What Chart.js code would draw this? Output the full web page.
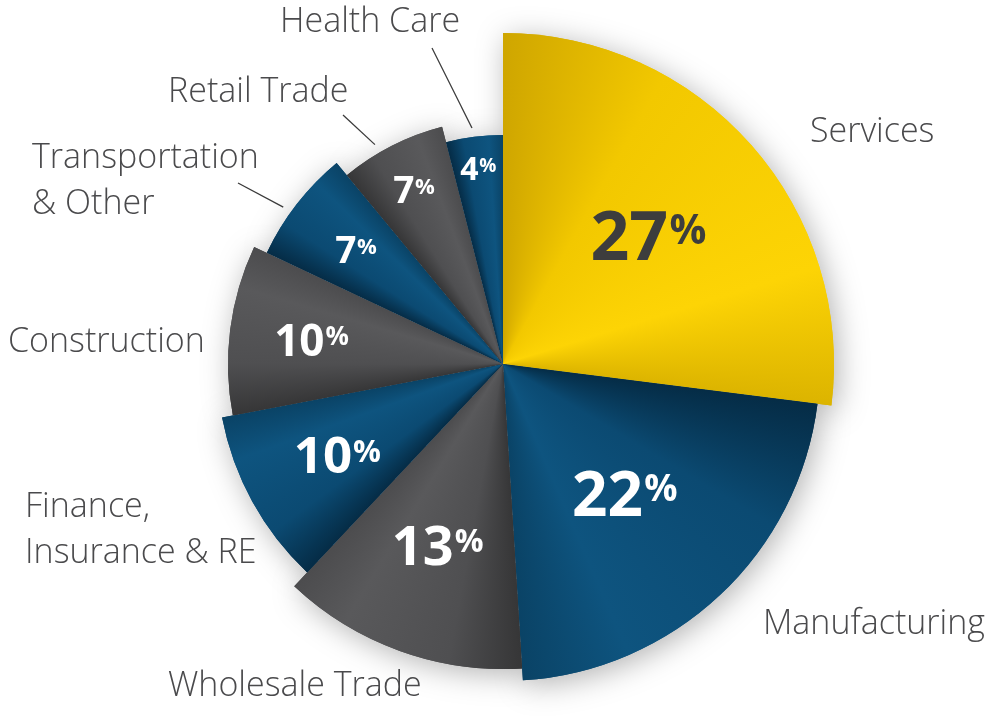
<!DOCTYPE html>
<html>
<head>
<meta charset="utf-8">
<title>Industry share</title>
<script src="https://cdn.jsdelivr.net/npm/chart.js@4.4.1/dist/chart.umd.min.js"></script>
<style>
  html, body { margin: 0; padding: 0; background: #fff; }
  #wrap { width: 1000px; height: 726px; position: relative; }
</style>
</head>
<body>
<div id="wrap"><canvas id="industryChart"></canvas></div>
<script>
// data
const sectors = [`Services`, `Manufacturing`, `Wholesale Trade`, `Finance, Insurance & RE`, `Construction`, `Transportation & Other`, `Retail Trade`, `Health Care`];
const sectorLines = [[`Services`], [`Manufacturing`], [`Wholesale Trade`], [`Finance,`, `Insurance & RE`], [`Construction`], [`Transportation`, `& Other`], [`Retail Trade`], [`Health Care`]];
const shares = [27, 22, 13, 10, 10, 7, 7, 4];

// look of each slice (outer radius in px, colour family)
const sliceRadius = [331, 317, 305, 286, 275, 261, 245, 229];
const sliceTone = [`gold`, `blue`, `gray`, `blue`, `gray`, `blue`, `gray`, `blue`];
const pctDist = [194, 178, 193, 189, 193, 186, 196, 197];
const pctSize = [68, 62, 54, 51, 44, 37, 37, 32];
const pctColor = [`#3d3d3d`, `#fff`, `#fff`, `#fff`, `#fff`, `#fff`, `#fff`, `#fff`];

// where the sector names sit (left x, middle y of first line)
const namePos = [
  [810, 132], [763, 624], [168, 686], [25, 507],
  [8, 342], [32, 158], [168, 92], [280, 22],
];
// leader lines: start point and where on the slice edge they land (fraction of the slice)
const leaders = [
  { idx: 7, from: [432, 48], at: 0.48 },
  { idx: 6, from: [343, 115], at: 0.37 },
  { idx: 5, from: [238, 183], at: 0.41 },
];

(() => {
  ("use strict");

  const tones = {
    gold: { dark: `#cfa600`, base: `#f2c800`, light: `#fdd405`, edge: `#dcb400` },
    blue: { dark: `#052c46`, base: `#0b4a72`, light: `#0e547f`, edge: `#0a4366` },
    gray: { dark: `#363637`, base: `#4f4f51`, light: `#59595b`, edge: `#4c4c4e` },
  };
  const total = shares.reduce((a, b) => a + b, 0);

  function shade(c) {
    const i = c.dataIndex;
    const tone = tones[sliceTone[i]];
    const area = c.chart.chartArea;
    if (!area) return tone.base;
    const cx = (area.left + area.right) / 2,
      cy = (area.top + area.bottom) / 2;
    const before = shares.slice(0, i).reduce((a, b) => a + b, 0);
    const a0 = -Math.PI / 2 + (2 * Math.PI * before) / total;
    const f = shares[i] / total;
    const g = c.chart.ctx.createConicGradient(a0, cx, cy);
    g.addColorStop(0, tone.dark);
    g.addColorStop(f * 0.3, tone.base);
    g.addColorStop(f * 0.75, tone.light);
    g.addColorStop(f, tone.edge);
    g.addColorStop(Math.min(1, f + 0.001), tone.base);
    return g;
  }

  const radiusPlugin = {
    id: `sliceRadius`,
    afterDatasetsUpdate(chart) {
      chart.getDatasetMeta(0).data.forEach((el, i) => {
        el.outerRadius = sliceRadius[i];
      });
    },
    beforeDatasetsDraw(chart) {
      // soft halo under the pie
      const ctx = chart.ctx;
      ctx.save();
      ctx.shadowColor = `rgba(0,0,0,0.30)`;
      ctx.shadowBlur = 30;
      ctx.shadowOffsetX = 4;
      ctx.shadowOffsetY = 5;
      chart.getDatasetMeta(0).data.forEach((el) => el.draw(ctx));
      ctx.restore();
    },
  };

  const labelPlugin = {
    id: `sliceLabels`,
    afterDatasetsDraw(chart) {
      const ctx = chart.ctx;
      const arcs = chart.getDatasetMeta(0).data;
      ctx.save();
      // percentages
      arcs.forEach((el, i) => {
        const mid = (el.startAngle + el.endAngle) / 2;
        const x = el.x + Math.cos(mid) * pctDist[i];
        const y = el.y + Math.sin(mid) * pctDist[i];
        const s = pctSize[i],
          ps = Math.round(s * 0.6);
        const num = `${shares[i]}`;
        ctx.font = `700 ${s}px "Open Sans"`;
        const wn = ctx.measureText(num).width;
        ctx.font = `700 ${ps}px "Open Sans"`;
        const wp = ctx.measureText(`%`).width;
        const gap = s * 0.02;
        const left = x - (wn + gap + wp) / 2;
        const top = y - s * 0.36;
        ctx.fillStyle = pctColor[i];
        ctx.textAlign = `left`;
        ctx.textBaseline = `alphabetic`;
        ctx.font = `700 ${s}px "Open Sans"`;
        ctx.fillText(num, left, top + s * 0.72);
        ctx.font = `700 ${ps}px "Open Sans"`;
        ctx.fillText(`%`, left + wn + gap, top + s * 0.05 + ps * 0.72);
      });
      // sector names
      ctx.fillStyle = `#4a4a4c`;
      ctx.font = `300 34px "Open Sans"`;
      ctx.textAlign = `left`;
      ctx.textBaseline = `middle`;
      sectorLines.forEach((lines, i) => {
        lines.forEach((t, k) => {
          ctx.fillText(t, namePos[i][0], namePos[i][1] + k * 46);
        });
      });
      // leader lines
      ctx.strokeStyle = `#3a3a3a`;
      ctx.lineWidth = 1.3;
      leaders.forEach((l) => {
        const el = arcs[l.idx];
        const a = el.startAngle + (el.endAngle - el.startAngle) * l.at;
        const r = el.outerRadius + 9;
        ctx.beginPath();
        ctx.moveTo(l.from[0], l.from[1]);
        ctx.lineTo(el.x + Math.cos(a) * r, el.y + Math.sin(a) * r);
        ctx.stroke();
      });
      ctx.restore();
    },
  };

  const industryCfg = {
    type: `pie`,
    data: {
      labels: sectors,
      datasets: [
        {
          label: `Share`,
          data: shares,
          backgroundColor: shade,
          borderWidth: 0,
        },
      ],
    },
    options: {
      responsive: false,
      animation: false,
      layout: {
        padding: { left: 6, top: 2 },
      },
      plugins: {
        legend: { display: false },
        tooltip: { enabled: false },
      },
    },
    plugins: [radiusPlugin, labelPlugin],
  };

  const canvas = document.getElementById(`industryChart`);
  canvas.width = 1000;
  canvas.height = 726;
  const ic = new Chart(canvas, industryCfg);
})();
</script>
</body>
</html>
